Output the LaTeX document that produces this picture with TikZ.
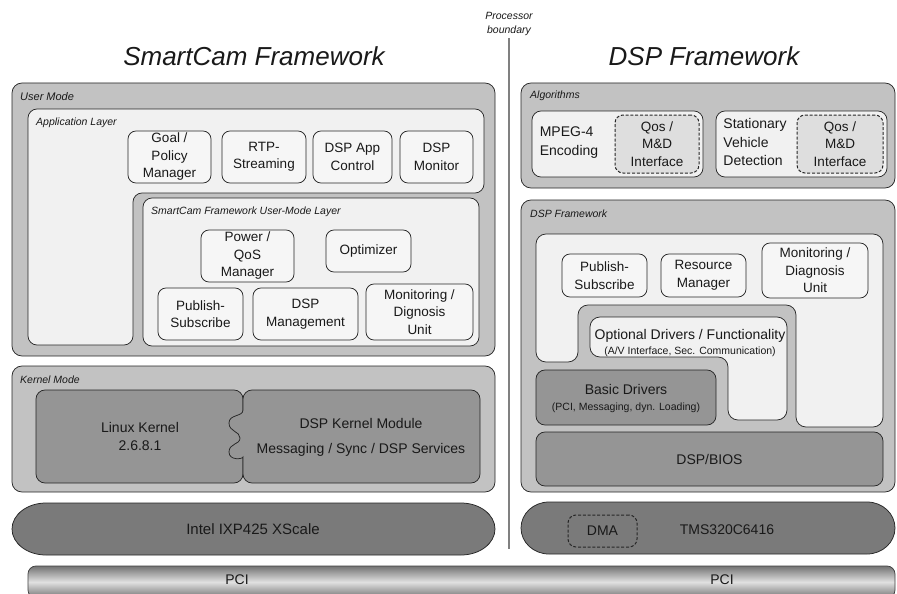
\documentclass[tikz,border=0pt]{standalone}
\usepackage{fontspec}
\setmainfont{Liberation Sans}
\definecolor{outerg}{gray}{0.76}
\definecolor{lightg}{gray}{0.945}
\definecolor{compg}{gray}{0.965}
\definecolor{midg}{gray}{0.585}
\definecolor{darkg}{gray}{0.48}
\definecolor{qosg}{gray}{0.87}
\definecolor{divg}{gray}{0.5}
\definecolor{pcidark}{gray}{0.45}
\definecolor{pcilight}{gray}{0.88}
\tikzset{
 frame/.style={draw=black!85, line width=0.75pt},
 outerbox/.style={frame, fill=outerg, rounded corners=10pt},
 layerbox/.style={frame, fill=lightg, rounded corners=9pt},
 comp/.style={frame, fill=compg, rounded corners=8pt, align=center, font=\fontsize{13.5}{17.5}\selectfont},
 midbox/.style={frame, fill=midg, rounded corners=9pt, align=center, font=\fontsize{14}{18}\selectfont},
 dashbox/.style={draw=black!85, line width=1pt, dash pattern=on 3pt off 1.8pt, rounded corners=8pt, align=center, font=\fontsize{13.5}{17.5}\selectfont},
 lbl/.style={anchor=west, font=\itshape\fontsize{10.5}{12}\selectfont},
 bigtitle/.style={font=\itshape\fontsize{26}{30}\selectfont},
 txt/.style={align=center, font=\fontsize{14}{18}\selectfont},
 pcibar/.style={draw=black!75, line width=0.75pt, rounded corners=8pt, top color=pcidark, bottom color=pcidark, middle color=pcilight},
}
\begin{document}
\begin{tikzpicture}[x=1pt,y=-1pt, every node/.style={inner sep=0pt, text=black!90}]
\clip (0,0) rectangle (897,594);
\fill[white] (0,0) rectangle (897,594);

% ---------- titles ----------
\node[bigtitle] (t1) at (254,56) {SmartCam Framework};
\node[bigtitle] (t2) at (704,56) {DSP Framework};
\node[align=center, font=\itshape\fontsize{10.5}{14}\selectfont] (procb) at (509,24) {Processor\\boundary};
\coordinate (divtop) at (509,38);
\coordinate (divbot) at (509,549);
\draw[divg, line width=1.4pt] (divtop) -- (divbot);

% ---------- User mode ----------
\node[outerbox, minimum width=483pt, minimum height=273pt] (usermode) at (253.5,219.5) {};
\node[lbl, font=\itshape\fontsize{11}{12}\selectfont] (lblum) at (20,97) {User Mode};
\draw[frame, fill=lightg, rounded corners=9pt] (28,109) -- (484,109) -- (484,193) -- (133,193) -- (133,345) -- (28,345) -- cycle;
\node[lbl] (lblapp) at (36,123) {Application Layer};
\node[comp, minimum width=83pt, minimum height=52pt] (goal) at (169.5,157) {Goal /\\Policy\\Manager};
\node[comp, minimum width=84pt, minimum height=52pt] (rtp) at (264,157) {RTP-\\Streaming};
\node[comp, minimum width=79pt, minimum height=52pt] (dspapp) at (352.5,157) {DSP App\\Control};
\node[comp, minimum width=73pt, minimum height=52pt] (dspmon) at (436.5,157) {DSP\\Monitor};

\node[layerbox, minimum width=336pt, minimum height=148pt] (umlayer) at (311,272) {};
\node[lbl] (lblscf) at (151,212) {SmartCam Framework User-Mode Layer};
\node[comp, minimum width=93pt, minimum height=52pt] (power) at (247.5,256) {Power /\\QoS\\Manager};
\node[comp, minimum width=85pt, minimum height=42pt] (optim) at (368.5,251) {Optimizer};
\node[comp, minimum width=85pt, minimum height=52pt] (pubsub) at (200.5,314) {Publish-\\Subscribe};
\node[comp, minimum width=105pt, minimum height=52pt] (dspmgmt) at (305.5,314) {DSP\\Management};
\node[comp, minimum width=107pt, minimum height=56pt] (monitor) at (419.5,312) {Monitoring /\\Dignosis\\Unit};

% ---------- Kernel mode ----------
\node[outerbox, minimum width=483pt, minimum height=126pt] (kernelmode) at (253.5,429) {};
\node[lbl] (lblkm) at (20,380) {Kernel Mode};
\node[frame, fill=midg, rounded corners=9pt, minimum width=207pt, minimum height=93pt] (linux) at (139.5,436.5) {};
\draw[frame, fill=midg] (243,410) [rounded corners=9pt] -- (243,390) -- (480,390) -- (480,483) -- (243,483) -- (243,466) [sharp corners]
  .. controls (243,459) and (229,461) .. (229,452)
  .. controls (229,443) and (240,445) .. (240,438)
  .. controls (240,431) and (229,432) .. (229,423)
  .. controls (229,414) and (243,417) .. (243,410) -- cycle;
\node[txt] (linuxtxt) at (140,436) {Linux Kernel\\2.6.8.1};
\node[txt, font=\fontsize{14}{25}\selectfont] (dspkm) at (361,437) {DSP Kernel Module\\Messaging / Sync / DSP Services};

% ---------- Intel ----------
\draw[frame, fill=darkg] (46,503) -- (461,503) arc[start angle=-90, end angle=90, x radius=34, y radius=26] -- (46,555) arc[start angle=90, end angle=270, x radius=34, y radius=26] -- cycle;
\node[txt, font=\fontsize{15}{18}\selectfont] (intel) at (253,529) {Intel IXP425 XScale};

% ---------- Algorithms ----------
\node[outerbox, minimum width=374pt, minimum height=105pt] (algo) at (708,135.5) {};
\node[lbl] (lblalgo) at (530,96) {Algorithms};
\node[layerbox, minimum width=171pt, minimum height=66pt] (mpegbox) at (617.5,144) {};
\node[dashbox, fill=qosg, minimum width=84pt, minimum height=58pt] (qos1) at (657,144) {Qos /\\M\&D\\Interface};
\node[txt, align=left, font=\fontsize{14}{19}\selectfont] (mpeg) at (569,143) {MPEG-4\\Encoding};
\node[layerbox, minimum width=171pt, minimum height=66pt] (svdbox) at (801.5,144) {};
\node[dashbox, fill=qosg, minimum width=86pt, minimum height=58pt] (qos2) at (840,144) {Qos /\\M\&D\\Interface};
\node[txt, align=left, font=\fontsize{14}{18.5}\selectfont] (svd) at (755,142) {Stationary\\Vehicle\\Detection};

% ---------- DSP framework ----------
\node[outerbox, minimum width=374pt, minimum height=292pt] (dspfw) at (708,346) {};
\node[lbl] (lbldspfw) at (530,214) {DSP Framework};
\draw[frame, fill=lightg, rounded corners=10pt] (536,234) -- (883,234) -- (883,427) -- (796,427) -- (796,305) -- (578,305) -- (578,362) -- (536,362) -- cycle;
\node[comp, minimum width=85pt, minimum height=43pt] (pubsub2) at (604.5,275.5) {Publish-\\Subscribe};
\node[comp, minimum width=85pt, minimum height=43pt] (resmgr) at (703.5,275.5) {Resource\\Manager};
\node[comp, minimum width=106pt, minimum height=55pt] (monitor2) at (815,270.5) {Monitoring /\\Diagnosis\\Unit};
\draw[frame, fill=lightg, rounded corners=10pt] (590,317) -- (787,317) -- (787,420) -- (728,420) -- (728,357) -- (590,357) -- cycle;
\node[align=center, font=\fontsize{14}{15}\selectfont] (optional) at (690,343) {Optional Drivers / Functionality\\{\fontsize{10.5}{12}\selectfont (A/V Interface, Sec. Communication)}};
\node[midbox, minimum width=180pt, minimum height=55pt] (basic) at (626,397.5) {};
\node[align=center, font=\fontsize{14}{16}\selectfont] (basictxt) at (626,399) {Basic Drivers\\{\fontsize{10.5}{12}\selectfont (PCI, Messaging, dyn. Loading)}};
\node[midbox, minimum width=347pt, minimum height=54pt] (bios) at (709.5,459) {DSP/BIOS};

% ---------- TMS ----------
\draw[frame, fill=darkg] (549,502) -- (867,502) arc[start angle=-90, end angle=90, x radius=28, y radius=26] -- (549,554) arc[start angle=90, end angle=270, x radius=28, y radius=26] -- cycle;
\node[dashbox, fill=darkg, minimum width=69pt, minimum height=32pt, font=\fontsize{14}{17}\selectfont] (dma) at (602.5,531) {DMA};
\node[txt] (tms) at (727,530) {TMS320C6416};

% ---------- PCI ----------
\node[pcibar, minimum width=867pt, minimum height=32pt] (pci) at (461.5,582) {};
\node[txt] (pcil) at (237,580) {PCI};
\node[txt] (pcir) at (722,580) {PCI};
\end{tikzpicture}
\end{document}
